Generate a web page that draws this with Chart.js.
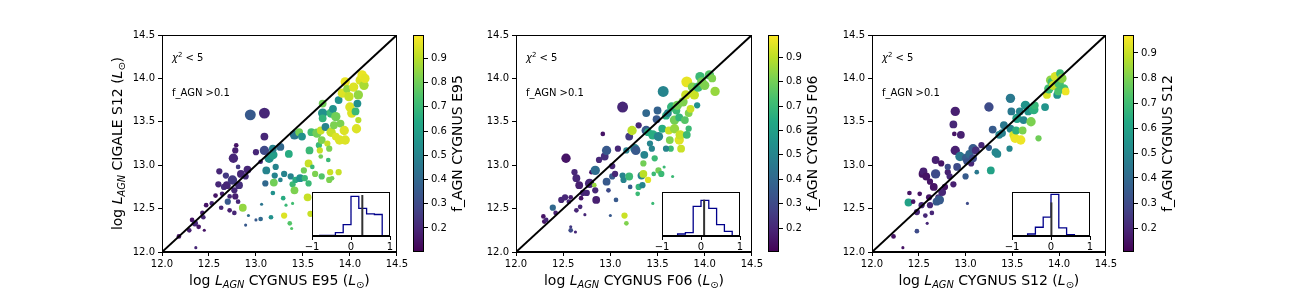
<!DOCTYPE html>
<html>
<head>
<meta charset="utf-8">
<script src="https://cdn.jsdelivr.net/npm/chart.js@4"></script>
<style>
  body { margin: 0; background: #fff; }
  #wrap { position: relative; width: 1296px; height: 288px; overflow: hidden; }
  canvas { position: absolute; }
</style>
</head>
<body>
<div id="wrap">
  <canvas id="m1" width="310" height="288" style="left:100px;top:0"></canvas>
  <canvas id="c1" width="70" height="288" style="left:413px;top:0"></canvas>
  <canvas id="h1" width="102" height="70" style="left:300px;top:185px"></canvas>
  <canvas id="m2" width="311" height="288" style="left:454px;top:0"></canvas>
  <canvas id="c2" width="70" height="288" style="left:768px;top:0"></canvas>
  <canvas id="h2" width="102" height="70" style="left:650px;top:185px"></canvas>
  <canvas id="m3" width="309" height="288" style="left:810px;top:0"></canvas>
  <canvas id="c3" width="70" height="288" style="left:1123px;top:0"></canvas>
  <canvas id="h3" width="102" height="70" style="left:1000px;top:185px"></canvas>
</div>
<script>
// ---- data: CYGNUS E95 vs CIGALE S12 ----
const xE95 = [12.18,12.29,12.32,12.35,12.36,12.39,12.45,12.43,12.44,12.47,12.57,12.53,12.60,12.61,12.64,12.66,12.68,12.69,12.72,12.63,
  12.72,12.77,12.70,12.75,12.77,12.78,12.81,12.82,12.76,12.81,12.79,12.78,12.84,12.89,12.91,12.86,12.89,12.92,12.94,13.00,
  13.06,13.09,13.09,13.09,13.10,13.11,13.00,13.05,13.05,13.14,13.18,13.18,13.26,13.21,13.20,13.19,13.18,13.16,13.26,13.29,
  13.30,13.30,13.32,13.35,13.39,13.37,13.39,13.36,13.38,13.41,13.41,13.42,13.46,13.49,13.51,13.47,13.52,13.56,13.57,13.56,
  13.55,13.59,13.60,13.63,13.65,13.67,13.68,13.69,13.69,13.70,13.71,13.71,13.71,13.74,13.76,13.77,13.78,13.79,13.80,13.80,
  13.82,13.83,13.85,13.85,13.88,13.89,13.88,13.90,13.92,13.94,13.95,13.95,13.97,13.99,14.00,14.02,14.04,14.06,14.07,14.08,
  14.09,14.11,14.13,14.15,14.16,14.09,13.58,13.78,13.81,13.70];
const yE95 = [12.18,12.25,12.37,12.33,12.05,12.29,12.25,12.45,12.40,12.54,12.65,12.56,12.78,12.93,12.67,12.75,12.88,12.77,12.64,12.51,
  12.48,12.45,12.58,12.83,12.71,12.64,12.58,12.77,13.08,12.98,13.23,13.17,12.90,12.87,12.95,12.51,12.31,12.42,13.58,12.37,
  12.55,13.60,13.33,13.17,12.79,12.94,13.15,13.04,12.38,13.08,13.12,13.19,13.21,12.98,12.88,12.80,12.68,12.40,12.83,12.62,
  12.90,12.42,12.54,13.13,12.78,12.87,12.56,12.33,12.27,12.71,13.35,12.83,13.38,13.33,12.94,12.85,12.85,12.79,13.17,13.02,
  12.63,13.38,12.98,12.90,13.37,13.23,13.17,13.10,13.40,13.29,13.60,13.54,13.71,13.44,13.25,13.06,13.19,12.92,13.38,13.60,
  13.65,13.46,13.56,13.33,13.75,13.29,12.92,13.48,13.83,13.40,13.29,13.96,13.88,13.79,13.67,13.60,13.90,13.62,13.42,13.71,
  13.81,13.98,14.04,13.92,14.00,13.52,12.44,12.83,12.85,12.87];
const fE95 = [0.15,0.18,0.15,0.20,0.20,0.15,0.15,0.18,0.20,0.15,0.15,0.20,0.20,0.20,0.18,0.22,0.25,0.20,0.20,0.20,
  0.18,0.20,0.35,0.25,0.20,0.18,0.20,0.22,0.20,0.25,0.15,0.18,0.20,0.22,0.20,0.85,0.35,0.42,0.35,0.35,
  0.45,0.20,0.20,0.30,0.40,0.50,0.20,0.20,0.40,0.55,0.60,0.50,0.40,0.50,0.50,0.80,0.55,0.55,0.50,0.65,
  0.50,0.95,0.70,0.65,0.70,0.50,0.72,0.75,0.75,0.82,0.45,0.65,0.80,0.55,0.80,0.55,0.70,0.70,0.70,0.92,
  0.92,0.72,0.70,0.82,0.80,0.70,0.92,0.80,0.92,0.82,0.55,0.68,0.80,0.50,0.92,0.70,0.82,0.92,0.92,0.70,
  0.55,0.82,0.80,0.95,0.55,0.95,0.92,0.82,0.95,0.95,0.95,0.97,0.85,0.92,0.95,0.95,0.95,0.70,0.95,0.55,
  0.85,0.95,0.97,0.88,0.96,0.90,0.92,0.82,0.80,0.75];
const sE95 = [3,3,3,4,2,3,2,3,3,3,3,3,4,4,3,4,4,5,3,3,
  3,3,4,6,4,4,3,5,6,3,3,4,5,4,5,5,2,2,7,2,
  2,7,5,6,4,5,4,3,3,6,6,5,5,4,4,5,3,3,3,3,
  4,4,2,5,4,4,2,3,2,5,6,4,5,5,4,5,4,4,5,5,
  5,5,3,4,6,4,4,3,5,5,6,5,5,5,4,3,4,4,6,6,
  5,5,6,5,5,6,4,5,6,6,6,6,5,6,6,6,6,5,6,5,
  6,6,6,6,6,4,4,4,3,4];

// ---- data: CYGNUS F06 vs CIGALE S12 ----
const xF06 = [12.29,12.30,12.32,12.39,12.42,12.48,12.52,12.53,12.56,12.58,12.58,12.58,12.63,12.62,12.64,12.67,12.64,12.68,12.69,12.71,
  12.73,12.75,12.78,12.83,12.84,12.85,12.80,12.84,12.88,12.92,12.94,12.96,12.96,12.98,13.02,13.02,13.00,13.05,13.06,13.08,
  13.13,13.13,13.14,13.15,13.17,13.17,13.20,13.23,13.21,13.20,13.26,13.27,13.30,13.29,13.30,13.33,13.35,13.34,13.35,13.36,
  13.38,13.38,13.40,13.40,13.42,13.45,13.45,13.44,13.46,13.49,13.50,13.51,13.51,13.54,13.55,13.57,13.56,13.59,13.61,13.62,
  13.63,13.64,13.65,13.66,13.68,13.68,13.70,13.71,13.73,13.74,13.73,13.75,13.77,13.79,13.80,13.81,13.83,13.85,13.81,13.87,
  13.89,13.92,13.93,13.95,13.97,14.00,14.05,14.08,14.11,13.83,13.59,13.47];
const yF06 = [12.41,12.35,12.37,12.51,12.45,12.60,12.63,13.08,12.58,12.63,12.25,12.29,12.23,12.92,12.85,12.77,12.48,12.52,12.62,12.68,
  12.43,12.68,12.79,12.77,12.71,12.60,12.92,12.94,13.06,13.36,13.10,13.17,12.81,12.71,12.99,12.87,12.42,12.90,12.60,13.19,
  13.67,12.88,12.83,12.42,12.33,13.17,13.33,13.40,12.75,12.87,13.19,13.17,13.46,12.67,12.75,12.88,12.90,12.77,13.02,13.12,
  13.60,13.40,12.83,13.38,13.25,13.35,12.56,13.19,12.90,13.53,13.63,13.33,12.94,12.90,13.42,12.98,13.85,13.57,13.60,13.40,
  13.29,13.19,13.67,12.87,13.52,13.42,13.63,13.69,13.29,13.35,13.55,13.19,13.73,13.52,13.81,13.35,13.60,13.65,13.96,13.90,
  13.81,13.69,13.90,14.02,13.96,13.92,14.04,14.00,13.85,13.42,13.19,13.08];
const fF06 = [0.15,0.15,0.20,0.40,0.18,0.20,0.20,0.15,0.20,0.18,0.30,0.25,0.20,0.20,0.20,0.18,0.20,0.20,0.15,0.20,
  0.20,0.20,0.20,0.85,0.20,0.18,0.15,0.42,0.20,0.15,0.22,0.35,0.35,0.30,0.20,0.35,0.35,0.20,0.35,0.20,
  0.20,0.50,0.50,0.92,0.82,0.50,0.25,0.90,0.35,0.70,0.50,0.35,0.20,0.70,0.68,0.50,0.90,0.50,0.80,0.50,
  0.40,0.35,0.95,0.65,0.50,0.65,0.70,0.50,0.70,0.35,0.38,0.50,0.80,0.70,0.65,0.70,0.50,0.65,0.50,0.92,
  0.82,0.70,0.68,0.70,0.80,0.85,0.70,0.80,0.95,0.92,0.68,0.92,0.82,0.75,0.92,0.70,0.82,0.92,0.96,0.82,
  0.92,0.55,0.70,0.70,0.80,0.82,0.75,0.82,0.85,0.70,0.50,0.70];
const sF06 = [3,3,3,4,3,4,4,6,3,3,3,2,2,4,5,5,3,3,3,4,
  2,4,6,3,4,5,3,6,4,3,5,6,5,3,4,4,2,4,3,4,
  7,4,4,4,3,4,5,6,3,5,6,6,4,3,4,5,5,4,4,5,
  5,6,4,5,4,6,2,4,3,5,5,6,4,4,5,2,7,5,5,5,
  5,4,6,2,6,6,5,6,6,6,5,5,6,5,6,5,5,5,7,6,
  6,4,6,6,6,6,6,5,6,4,4,4];

// ---- data: CYGNUS S12 vs CIGALE S12 ----
const xS12 = [12.23,12.33,12.39,12.40,12.44,12.48,12.48,12.51,12.53,12.54,12.55,12.57,12.58,12.59,12.61,12.62,12.62,12.64,12.66,12.68,
  12.68,12.69,12.71,12.72,12.74,12.75,12.78,12.81,12.83,12.81,12.87,12.88,12.87,12.89,12.89,12.91,12.94,12.95,13.00,13.01,
  13.01,13.02,13.04,13.06,13.08,13.08,13.11,13.12,13.17,13.25,13.25,13.27,13.29,13.32,13.34,13.36,13.39,13.41,13.47,13.48,
  13.48,13.49,13.51,13.53,13.54,13.55,13.58,13.59,13.61,13.62,13.64,13.67,13.70,13.73,13.74,13.78,13.85,13.87,13.89,13.91,
  13.92,13.94,13.96,13.98,14.00,14.01,14.03,14.05,14.07,13.99];
const yS12 = [12.18,12.05,12.57,12.68,12.58,12.46,12.24,12.67,12.54,12.90,12.93,12.42,12.87,12.33,12.63,12.81,12.54,12.45,12.75,13.06,
  12.90,12.58,12.63,12.60,13.02,12.69,12.75,12.92,12.87,12.98,12.78,13.36,13.47,13.62,13.17,12.98,13.10,13.35,12.87,13.08,
  13.04,12.56,13.13,13.02,13.08,13.19,13.17,12.92,13.23,13.67,13.20,12.94,13.41,13.15,13.13,13.35,13.37,13.46,13.19,13.77,
  13.42,13.62,13.35,13.31,13.40,13.54,13.62,13.29,13.40,13.52,13.69,13.62,13.50,13.64,13.69,13.31,13.67,13.81,13.88,13.98,
  13.96,13.92,14.02,13.81,13.94,14.06,14.00,13.88,13.85,13.85];
const fS12 = [0.15,0.15,0.60,0.15,0.15,0.20,0.30,0.15,0.20,0.15,0.18,0.20,0.15,0.20,0.15,0.15,0.20,0.20,0.15,0.18,
  0.30,0.35,0.20,0.35,0.15,0.20,0.15,0.18,0.20,0.30,0.18,0.15,0.20,0.18,0.18,0.30,0.45,0.18,0.35,0.35,
  0.32,0.30,0.40,0.20,0.30,0.35,0.22,0.45,0.20,0.30,0.35,0.60,0.35,0.50,0.50,0.50,0.48,0.45,0.50,0.45,
  0.50,0.45,0.92,0.95,0.65,0.60,0.50,0.95,0.80,0.50,0.55,0.55,0.80,0.65,0.68,0.78,0.55,0.92,0.70,0.82,
  0.70,0.90,0.92,0.55,0.72,0.70,0.82,0.70,0.95,0.72];
const sS12 = [3,2,5,3,3,4,3,3,4,5,5,3,5,2,4,4,4,3,5,5,
  6,5,4,6,4,5,4,4,4,4,4,3,5,6,6,5,6,5,4,6,
  4,2,5,4,5,6,5,3,4,6,4,5,5,5,5,5,5,5,4,6,
  5,5,5,6,5,6,5,6,5,5,6,5,6,6,5,4,5,5,6,6,
  5,6,6,5,6,5,6,6,5,5];

// colour ranges of the three colour bars (f_AGN min / max)
const fRangeE95 = [0.101, 0.996];
const fRangeF06 = [0.102, 0.991];
const fRangeS12 = [0.104, 0.972];
const cbTicks = [0.2, 0.3, 0.4, 0.5, 0.6, 0.7, 0.8, 0.9];

// inset histograms (log ratio), step outline
const histEdges = [-0.8, -0.6, -0.4, -0.2, 0, 0.2, 0.4, 0.6, 0.8];
const histE95 = [1, 1, 5, 17, 59, 41, 33, 32];
const histF06 = [0, 3, 5, 44, 53, 41, 17, 7];
const histS12 = [0, 3, 13, 28, 62, 12, 2, 0];
const histYMax = 65.5;
const medE95 = [0.29, 61];
const medF06 = [0.08, 54];
const medS12 = [0.01, 50];

const FONT = '"DejaVu Sans"';

const viridisStops = ['#440154','#482475','#414487','#355f8d','#2a788e','#21918c','#22a884','#44bf70','#7ad151','#bddf26','#fde725'];
function hexRgb(h) { return [parseInt(h.slice(1,3),16), parseInt(h.slice(3,5),16), parseInt(h.slice(5,7),16)]; }
function viridis(t) {
  t = Math.max(0, Math.min(1, t));
  const p = t * 10, i = Math.min(9, Math.floor(p)), f = p - i;
  const a = hexRgb(viridisStops[i]), b = hexRgb(viridisStops[i+1]);
  return 'rgb(' + a.map((v,k) => Math.round(v + (b[k]-v)*f)).join(',') + ')';
}

// text with italic / sub / superscript pieces, like matplotlib mathtext
function richText(ctx, parts, x, y, size, rot, align) {
  ctx.save();
  ctx.translate(x, y);
  ctx.rotate(rot || 0);
  const small = k => k === 'si' || k === 'sr' || k === 'p';
  const fontOf = k => (k === 'i' || k === 'si' ? 'italic ' : '') + (small(k) ? size*0.7 : size) + 'px ' + FONT;
  let w = 0;
  parts.forEach(([t,k]) => { ctx.font = fontOf(k); w += ctx.measureText(t).width; });
  let cx = align === 'left' ? 0 : -w/2;
  ctx.textBaseline = 'alphabetic';
  ctx.fillStyle = '#000';
  parts.forEach(([t,k]) => {
    ctx.font = fontOf(k);
    const dy = (k === 'si' || k === 'sr') ? size*0.22 : (k === 'p' ? -size*0.38 : 0);
    ctx.fillText(t, cx, dy + size*0.36);
    cx += ctx.measureText(t).width;
  });
  ctx.restore();
}

function axisParts(mid) {
  return [['log ','r'],['L','i'],['AGN','si'],[mid + ' (','r'],['L','i'],['\u2299','sr'],[')','r']];
}

function mainChart(id, xs, ys, fs, ss, range, xTitle, withYTitle) {
  const canvas = document.getElementById(id);
  const tickFont = { family: FONT, size: 10 };
  const decor = {
    id: 'decor',
    afterDraw(chart) {
      const ctx = chart.ctx, a = chart.chartArea;
      ctx.save();
      ctx.strokeStyle = '#000';
      ctx.lineWidth = 1;
      ctx.strokeRect(Math.round(a.left) + 0.5, Math.round(a.top) + 0.5, Math.round(a.right - a.left) - 1, Math.round(a.bottom - a.top) - 1);
      ctx.restore();
      richText(ctx, [['\u03c7','i'],['2','p'],[' < 5','r']], a.left + 10, 57, 10, 0, 'left');
      richText(ctx, [['f_AGN >0.1','r']], a.left + 10, 92, 10, 0, 'left');
      richText(ctx, axisParts(xTitle), (a.left + a.right)/2, 280, 14, 0);
      if (withYTitle) richText(ctx, axisParts(' CIGALE S12'), 17, (a.top + a.bottom)/2, 14, -Math.PI/2);
    }
  };
  new Chart(canvas, {
    type: 'scatter',
    data: {
      datasets: [
        { type: 'line', data: [{x:12, y:12}, {x:14.5, y:14.5}], borderColor: '#000', borderWidth: 2, pointRadius: 0, order: 0 },
        {
          data: xs.map((x, i) => ({ x: x, y: ys[i] })),
          pointRadius: ss.map(s => s * 0.78),
          pointBackgroundColor: fs.map(f => viridis((f - range[0]) / (range[1] - range[0]))),
          pointBorderWidth: 0,
          order: 1
        }
      ]
    },
    options: {
      responsive: false, animation: false, devicePixelRatio: 1, events: [],
      plugins: { legend: { display: false }, tooltip: { enabled: false } },
      layout: { padding: { left: 0, right: 12, top: 35, bottom: 0 } },
      scales: {
        x: {
          min: 12, max: 14.5,
          ticks: { stepSize: 0.5, callback: v => v.toFixed(1), font: tickFont, color: '#000', maxRotation: 0, padding: 2 },
          grid: { drawOnChartArea: false, tickLength: 4, color: '#000' },
          border: { color: '#000' },
          afterFit: s => { s.height = 36; }
        },
        y: {
          min: 12, max: 14.5,
          ticks: { stepSize: 0.5, callback: v => v.toFixed(1), font: tickFont, color: '#000', padding: 3 },
          grid: { drawOnChartArea: false, tickLength: 4, color: '#000' },
          border: { color: '#000' },
          afterFit: s => { s.width = 62; }
        }
      }
    },
    plugins: [decor]
  });
}

function colorBar(id, range, label) {
  const canvas = document.getElementById(id);
  const bar = {
    id: 'bar',
    beforeDraw(chart) {
      const ctx = chart.ctx, a = chart.chartArea;
      const g = ctx.createLinearGradient(0, a.bottom, 0, a.top);
      for (let i = 0; i <= 20; i++) g.addColorStop(i/20, viridis(i/20));
      ctx.fillStyle = g;
      ctx.fillRect(a.left, a.top, a.right - a.left, a.bottom - a.top);
    },
    afterDraw(chart) {
      const ctx = chart.ctx, a = chart.chartArea;
      ctx.save();
      ctx.strokeStyle = '#000';
      ctx.lineWidth = 1;
      ctx.strokeRect(Math.round(a.left) + 0.5, Math.round(a.top) + 0.5, Math.round(a.right - a.left) - 1, Math.round(a.bottom - a.top) - 1);
      ctx.restore();
      richText(ctx, [[label,'r']], a.right + 33, (a.top + a.bottom)/2, 14, -Math.PI/2);
    }
  };
  new Chart(canvas, {
    type: 'scatter',
    data: { datasets: [] },
    options: {
      responsive: false, animation: false, devicePixelRatio: 1, events: [],
      plugins: { legend: { display: false }, tooltip: { enabled: false } },
      layout: { padding: { left: 0, right: 0, top: 35, bottom: 36 } },
      scales: {
        x: { display: false, min: 0, max: 1 },
        y: {
          position: 'right', min: range[0], max: range[1],
          afterBuildTicks: s => { s.ticks = cbTicks.map(v => ({ value: v })); },
          ticks: { callback: v => v.toFixed(1), font: { family: FONT, size: 10 }, color: '#000', padding: 3 },
          grid: { drawOnChartArea: false, tickLength: 4, color: '#000' },
          border: { display: false },
          afterFit: s => { s.width = 59; }
        }
      }
    },
    plugins: [bar]
  });
}

function stepOutline(counts) {
  let first = counts.findIndex(c => c > 0);
  let last = counts.length - 1;
  while (counts[last] === 0) last--;
  const pts = [{ x: histEdges[first], y: 0 }];
  for (let i = first; i <= last; i++) {
    pts.push({ x: histEdges[i], y: counts[i] }, { x: histEdges[i+1], y: counts[i] });
  }
  pts.push({ x: histEdges[last+1], y: 0 });
  return pts;
}

function inset(id, counts, med) {
  const canvas = document.getElementById(id);
  const box = {
    id: 'box',
    beforeDraw(chart) {
      const ctx = chart.ctx, a = chart.chartArea;
      ctx.fillStyle = '#fff';
      ctx.fillRect(a.left, a.top, a.right - a.left, a.bottom - a.top);
    },
    afterDraw(chart) {
      const ctx = chart.ctx, a = chart.chartArea;
      ctx.save();
      ctx.strokeStyle = '#000';
      ctx.lineWidth = 1;
      ctx.strokeRect(Math.round(a.left) + 0.5, Math.round(a.top) + 0.5, Math.round(a.right - a.left) - 1, Math.round(a.bottom - a.top) - 1);
      ctx.restore();
    }
  };
  new Chart(canvas, {
    type: 'scatter',
    data: {
      datasets: [
        { type: 'line', data: [{ x: med[0], y: 0 }, { x: med[0], y: med[1] }], borderColor: '#333', borderWidth: 2, pointRadius: 0, order: 0 },
        { type: 'line', data: stepOutline(counts), borderColor: '#00008b', borderWidth: 1.3, pointRadius: 0, tension: 0, order: 1 }
      ]
    },
    options: {
      responsive: false, animation: false, devicePixelRatio: 1, events: [],
      plugins: { legend: { display: false }, tooltip: { enabled: false } },
      layout: { padding: { left: 12, right: 12, top: 7, bottom: 0 } },
      scales: {
        x: {
          min: -1, max: 1,
          ticks: { stepSize: 1, callback: v => v < 0 ? '\u2212' + Math.abs(v) : String(v), font: { family: FONT, size: 10 }, color: '#000', maxRotation: 0, padding: 1 },
          grid: { drawOnChartArea: false, tickLength: 4, color: '#000' },
          border: { color: '#000' },
          afterFit: s => { s.height = 19; }
        },
        y: { display: false, min: 0, max: histYMax }
      }
    },
    plugins: [box]
  });
}

mainChart('m1', xE95, yE95, fE95, sE95, fRangeE95, ' CYGNUS E95', true);
mainChart('m2', xF06, yF06, fF06, sF06, fRangeF06, ' CYGNUS F06', false);
mainChart('m3', xS12, yS12, fS12, sS12, fRangeS12, ' CYGNUS S12', false);
colorBar('c1', fRangeE95, 'f_AGN CYGNUS E95');
colorBar('c2', fRangeF06, 'f_AGN CYGNUS F06');
colorBar('c3', fRangeS12, 'f_AGN CYGNUS S12');
inset('h1', histE95, medE95);
inset('h2', histF06, medF06);
inset('h3', histS12, medS12);
</script>
</body>
</html>
